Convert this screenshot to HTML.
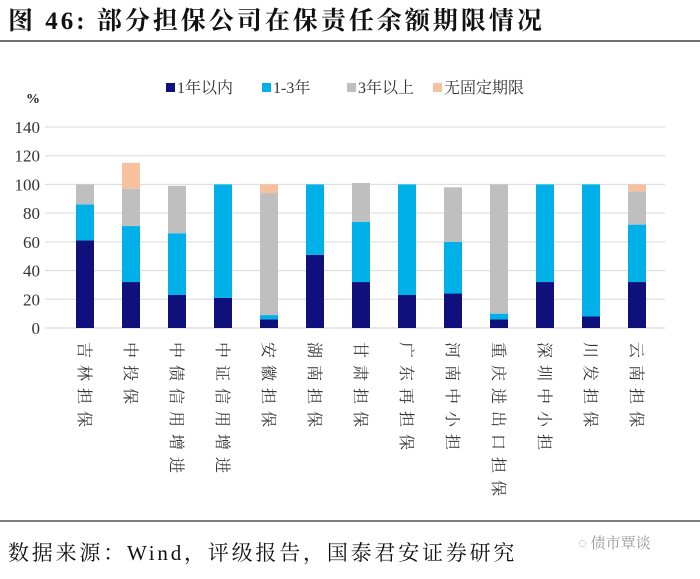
<!DOCTYPE html>
<html><head><meta charset="utf-8"><style>
body{margin:0;background:#fff;}
svg text{font-family:"Liberation Serif","Noto Serif CJK SC",serif;}
</style></head><body>
<svg width="700" height="574" xmlns="http://www.w3.org/2000/svg" id="chart">
<text x="8" y="29" font-size="25" font-weight="bold" fill="#111" letter-spacing="3">图 46:  部分担保公司在保责任余额期限情况</text>
<line x1="0" y1="41" x2="700" y2="41" stroke="#444" stroke-width="1.5"/>
<g id="legend"></g>
<text x="26" y="103" font-size="14" font-weight="bold" fill="#222">%</text>
<g id="grid"></g><g id="bars"></g><g id="xl"></g>
<line x1="0" y1="521" x2="700" y2="521" stroke="#555" stroke-width="1.5"/>
<text x="8" y="560" font-size="21" fill="#111" letter-spacing="2.8">数据来源：Wind，评级报告，国泰君安证券研究</text>
<text x="578" y="548" font-size="15" fill="#999">◌ 债市覃谈</text>
</svg>
<script>
const categories=["吉林担保","中投保","中债信用增进","中证信用增进","安徽担保","湖南担保","甘肃担保","广东再担保","河南中小担","重庆进出口担保","深圳中小担","川发担保","云南担保"];
const seriesNames=["1年以内","1-3年","3年以上","无固定期限"];
const within1=[61,32,23,21,6,51,32,23,24,6,32,8,32];
const y1to3=[25,39,43,79,3,49,42,77,36,4,68,92,40];
const over3=[14,26,33,0,85,0,27,0,38,90,0,0,23];
const noFixed=[0,18,0,0,6,0,0,0,0,0,0,0,5];
const yTicks=[0,20,40,60,80,100,120,140];
const colors=["#10107c","#00b0e8","#bfbfbf","#f7c09f"];
const NS="http://www.w3.org/2000/svg";
const y0=328,yTop=127,yMax=140,xL=45,xR=665;
const y=v=>y0-(v/yMax)*(y0-yTop);
const step=46,x0=85;
const xc=i=>x0+i*step;
function mk(t,a,p){const e=document.createElementNS(NS,t);for(const k in a)e.setAttribute(k,a[k]);p.appendChild(e);return e;}
const grid=document.getElementById('grid');
yTicks.forEach(t=>{
 if(t>0){const l=mk('line',{x1:xL,x2:xR,y1:y(t),y2:y(t),stroke:'#d9d9d9','stroke-width':1},grid);
 
 }
 const tx=mk('text',{x:40,y:y(t)+6,'font-size':17,'text-anchor':'end',fill:'#333'},grid);tx.textContent=t;
 
 
});
const ax=mk('line',{x1:xL,x2:xR,y1:y0,y2:y0,stroke:'#d0d0d0','stroke-width':1},grid);


const series=[within1,y1to3,over3,noFixed];
const bars=document.getElementById('bars');
categories.forEach((c,i)=>{
 let acc=0;
 series.forEach((s,k)=>{
  const v=s[i];if(v<=0)return;
  const r=mk('rect',{x:xc(i)-9,y:y(acc+v),width:18,height:y(acc)-y(acc+v),fill:colors[k]},bars);
  
  
  acc+=v;
 });
 const t=mk('text',{x:0,y:0,'font-size':16,fill:'#333','letter-spacing':7,transform:`translate(${xc(i)-6},342) rotate(90)`},document.getElementById('xl'));
 t.textContent=c;
 
 
});
const lg=document.getElementById('legend');
const lx=[166,262,347,433];
seriesNames.forEach((n,k)=>{
 const r=mk('rect',{x:lx[k],y:83,width:9,height:9,fill:colors[k]},lg);
 
 
 const t=mk('text',{x:lx[k]+11,y:93,'font-size':16,fill:'#333'},lg);t.textContent=n;
 
 
});
</script>
</body></html>
